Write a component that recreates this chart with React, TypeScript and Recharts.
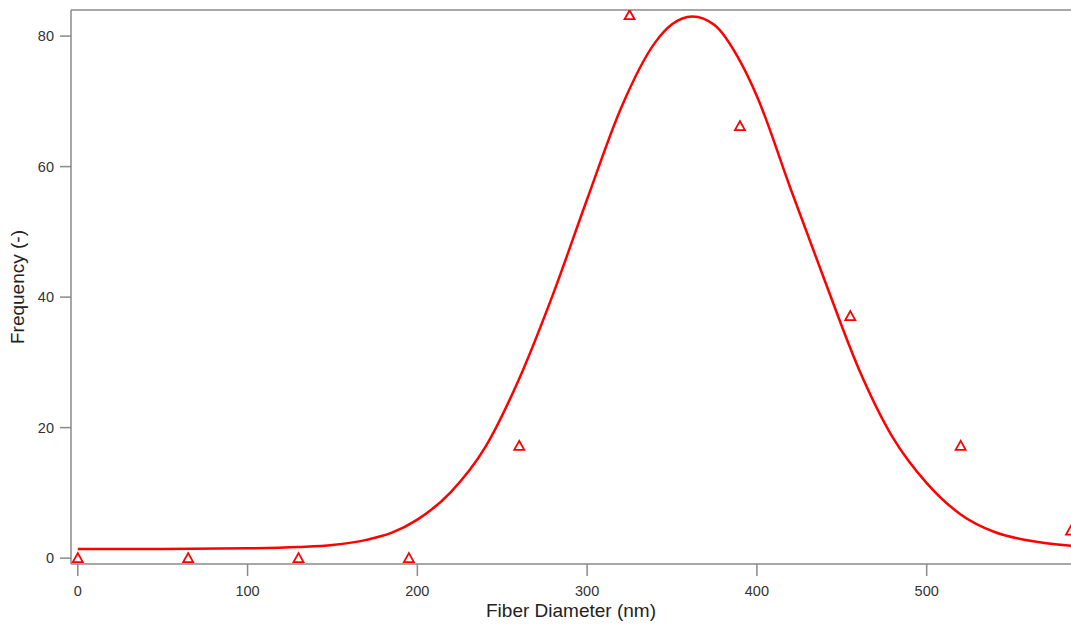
import React from 'react';
import { ComposedChart, Line, Scatter, XAxis, YAxis, ReferenceLine } from 'recharts';

// measured histogram counts (open triangles)
const diameters = [0, 65, 130, 195, 260, 325, 390, 455, 520, 585];
const counts = [0, 0, 0, 0, 17.2, 83.2, 66.2, 37.1, 17.2, 4.2];

// gaussian fit
const fitX = [0, 50, 100, 130, 150, 170, 185, 200, 220, 240, 260, 280, 300, 320, 340, 350, 362, 375, 390, 400, 420, 440, 460, 480, 500, 520, 540, 560, 585];
const fitY = [1.4, 1.4, 1.5, 1.7, 2.0, 2.8, 3.9, 5.9, 10.2, 17.0, 27.5, 40.5, 55, 69, 79.0, 81.8, 83, 81.7, 76.2, 70.8, 56.5, 42.5, 29, 18.5, 11.5, 6.7, 4.0, 2.7, 1.9];

const xTicks = [0, 100, 200, 300, 400, 500];
const yTicks = [0, 20, 40, 60, 80];

const points = diameters.map((x, i) => ({ x, y: counts[i] }));
const fit = fitX.map((x, i) => ({ x, y: fitY[i] }));

const axisColor = '#8a8a8a';
const tickStyle = { fontSize: 14.5, fill: '#333', fontFamily: 'Liberation Sans, Arial, sans-serif' };

const Triangle = (props: any) => {
    const { cx, cy } = props;
    if (cx == null || cy == null) return null;
    return (
        <polygon
            points={`${cx},${cy - 5} ${cx - 5},${cy + 4} ${cx + 5},${cy + 4}`}
            fill="none"
            stroke="#ff0000"
            strokeWidth={1.8}
        />
    );
};

export default function App() {
    return (
        <div style={{ position: 'absolute', left: 0, top: 0, width: 1071, height: 628, background: '#fff' }}>
            <ComposedChart
                width={1071}
                height={628}
                margin={{ top: 10, right: 0, left: 0, bottom: 0 }}
                style={{ fontFamily: 'Liberation Sans, Arial, sans-serif' }}
            >
                <XAxis
                    dataKey="x"
                    type="number"
                    domain={[-4, 585]}
                    ticks={xTicks}
                    allowDataOverflow
                    height={64}
                    stroke={axisColor}
                    strokeWidth={1.5}
                    tickSize={12}
                    tickMargin={10}
                    tick={tickStyle}
                    label={{ value: 'Fiber Diameter (nm)', position: 'insideBottom', offset: 11, style: { fontSize: 19, fill: '#222' } }}
                />
                <YAxis
                    type="number"
                    domain={[-0.9, 84]}
                    ticks={yTicks}
                    allowDataOverflow
                    width={71}
                    stroke={axisColor}
                    strokeWidth={1.5}
                    tickSize={11}
                    tickMargin={6}
                    tick={tickStyle}
                    label={{ value: 'Frequency (-)', angle: -90, position: 'insideLeft', offset: 17, style: { fontSize: 19, fill: '#222', textAnchor: 'middle' } }}
                />
                <ReferenceLine y={84} stroke={axisColor} strokeWidth={1.5} />
                <Line
                    data={fit}
                    dataKey="y"
                    type="monotone"
                    stroke="#ff0000"
                    strokeWidth={2.5}
                    dot={false}
                    activeDot={false}
                    isAnimationActive={false}
                />
                <Scatter data={points} dataKey="y" shape={<Triangle />} isAnimationActive={false} />
            </ComposedChart>
        </div>
    );
}
